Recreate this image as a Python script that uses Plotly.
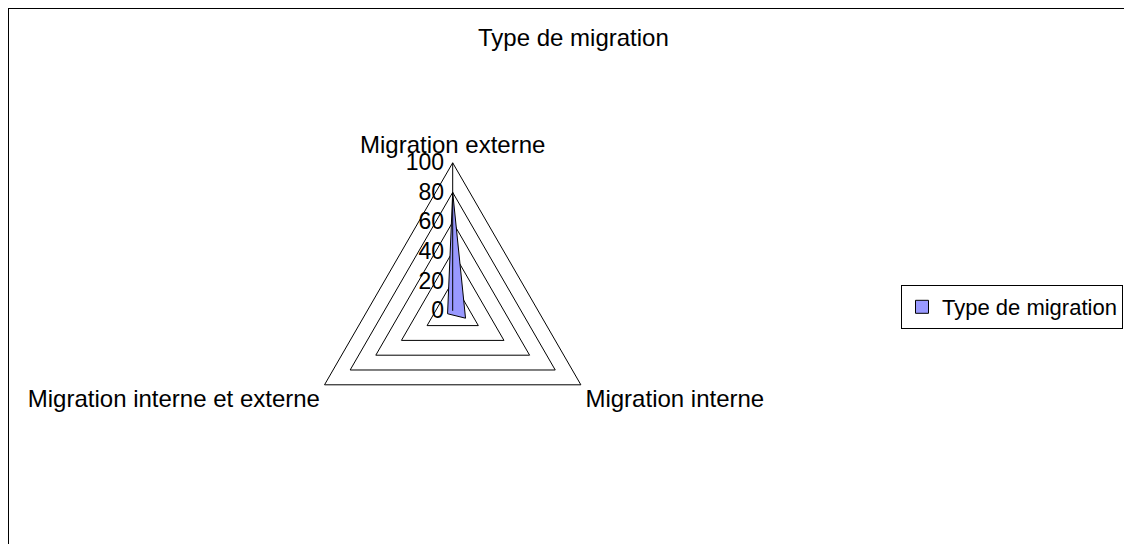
import plotly.graph_objects as go

categories = ["Migration externe", "Migration interne", "Migration interne et externe"]
values = [80, 10, 4]
series_name = "Type de migration"
chart_title = "Type de migration"
radial_ticks = [0, 20, 40, 60, 80, 100]

FONT = "Liberation Sans, Arial, sans-serif"
# page has an 8px body margin; figure origin sits at (8, 8) of the window
W, H = 1124, 536

fig = go.Figure()
fig.add_trace(go.Scatterpolar(
    r=values + values[:1],
    theta=categories + categories[:1],
    mode="lines",
    fill="toself",
    fillcolor="#9999FF",
    line=dict(color="#000000", width=1),
    name=series_name,
    showlegend=False,
))
# legend swatch (square, as in the original)
fig.add_trace(go.Scatterpolar(
    r=[None], theta=[categories[0]],
    mode="markers",
    marker=dict(symbol="square", size=13, color="#9999FF",
                line=dict(color="black", width=1)),
    name=series_name,
    showlegend=True,
))

cx, cy, rad = 444.7, 302.8, 148.0
fig.update_layout(
    width=W, height=H,
    margin=dict(l=0, r=0, t=0, b=0),
    paper_bgcolor="white",
    font=dict(family=FONT, size=23, color="black"),
    title=dict(text=chart_title, x=565.4 / W, xanchor="center",
               y=1 - 29.5 / H, yanchor="middle", yref="paper",
               font=dict(family=FONT, size=24, color="black")),
    polar=dict(
        domain=dict(x=[(cx - rad) / W, (cx + rad) / W],
                    y=[1 - (cy + rad) / H, 1 - (cy - rad) / H]),
        gridshape="linear",
        bgcolor="white",
        radialaxis=dict(
            range=[0, 100], tickvals=radial_ticks, angle=90,
            side="counterclockwise", tickangle=90,
            showline=True, linecolor="black", linewidth=1,
            gridcolor="black", gridwidth=1, ticks="",
            tickfont=dict(family=FONT, size=23, color="black"),
        ),
        angularaxis=dict(
            type="category", direction="clockwise", rotation=90,
            showgrid=False, showline=True, linecolor="black", linewidth=1,
            ticks="",
            tickfont=dict(family=FONT, size=24, color="black"),
        ),
    ),
    legend=dict(
        x=893 / W, xanchor="left", y=1 - 277 / H, yanchor="top",
        bordercolor="black", borderwidth=1, bgcolor="white",
        font=dict(family=FONT, size=22, color="black"),
        itemwidth=30,
    ),
    shapes=[dict(type="rect", xref="paper", yref="paper",
                 x0=0, x1=1.05, y0=-0.05, y1=1,
                 line=dict(color="black", width=2), layer="below")],
)

fig.write_html("out.html")
